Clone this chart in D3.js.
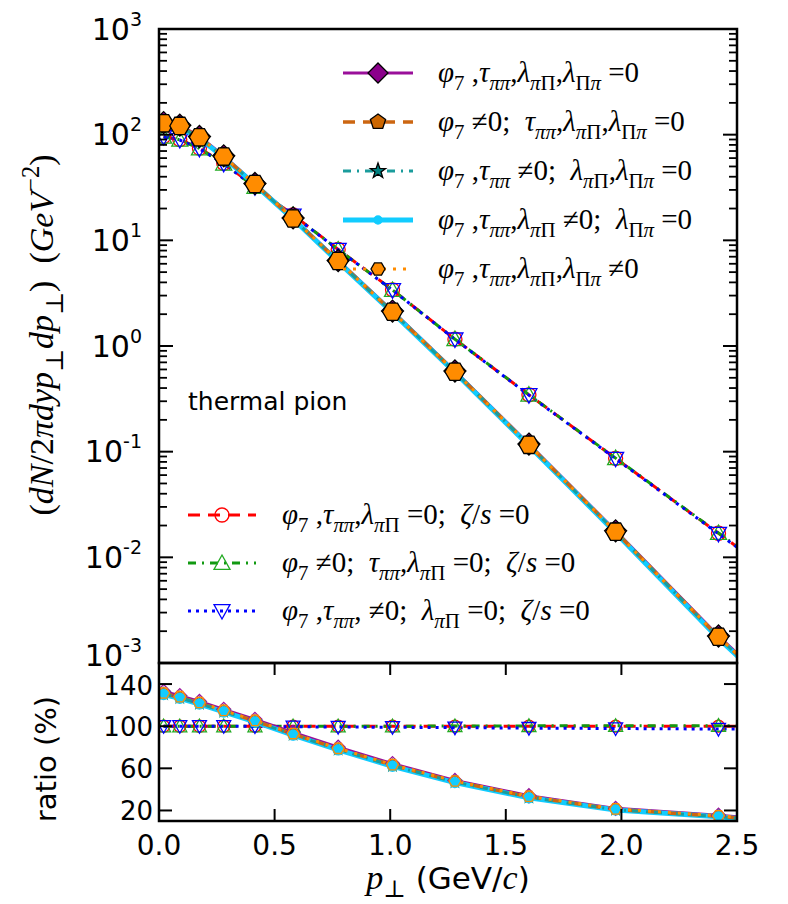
<!DOCTYPE html>
<html>
<head>
<meta charset="utf-8">
<script src="https://cdn.jsdelivr.net/npm/d3@7"></script>
<style>
  body { margin: 0; background: #fff; }
  svg { display: block; }
  text { white-space: pre; }
</style>
</head>
<body>
<svg id="chart" width="788" height="904"></svg>
<script>
"use strict";

// transverse momentum grid (last point lies past the axis, only the line reaches it)
const PT = [0.02, 0.09, 0.175, 0.28, 0.415, 0.58, 0.775, 1.01, 1.28, 1.60, 1.975, 2.42, 2.95];

// spectra, GeV^-2
const SPEC_PURPLE = [130, 123, 96, 63, 34.5, 16.3, 6.45, 2.14, 0.58, 0.118, 0.0178, 0.00180, 0.000148];
const SPEC_ORANGE = [127, 121, 94, 62, 34, 16.1, 6.35, 2.10, 0.57, 0.116, 0.0175, 0.00176, 0.000145];
const SPEC_TEAL   = [126, 120, 93.5, 61.5, 33.8, 16.0, 6.3, 2.09, 0.568, 0.1155, 0.0174, 0.00175, 0.000144];
const SPEC_CYAN   = [124, 118, 92.5, 61, 33.6, 15.9, 6.25, 2.07, 0.562, 0.114, 0.0171, 0.00171, 0.000141];
const SPEC_HEX    = [128, 121, 94.5, 62, 34.1, 16.1, 6.38, 2.11, 0.571, 0.116, 0.0175, 0.00177, 0.000146];
const SPEC_RED    = [96, 90, 74.5, 53.5, 32.2, 17.4, 8.2, 3.4, 1.16, 0.345, 0.0865, 0.0169, 0.0024];
const SPEC_GREEN  = [95.5, 89.5, 74, 53.2, 32, 17.3, 8.18, 3.39, 1.16, 0.346, 0.0868, 0.0170, 0.00242];
const SPEC_BLUE   = [95, 89, 73.5, 53, 31.9, 17.2, 8.15, 3.38, 1.155, 0.343, 0.0858, 0.0167, 0.00238];

// ratios, %
const RATIO_PURPLE = [133, 129, 123.5, 116, 106.5, 94, 80, 64.5, 48.5, 34, 22, 15.5, 5];
const RATIO_ORANGE = [131, 127.5, 122, 114.5, 105, 92.5, 78.5, 63, 47.5, 33, 21, 14.5, 4];
const RATIO_TEAL   = [130.5, 127, 121.5, 114, 104.5, 92, 78, 62.5, 47, 32.5, 20.8, 14.2, 4];
const RATIO_CYAN   = [130, 126.5, 121, 113.5, 104, 91.5, 77.5, 62, 46.5, 32, 20.5, 14, 3.5];
const RATIO_HEX    = [131.5, 128, 122.5, 115, 105.5, 93, 79, 63.5, 48, 33.5, 21.5, 15, 4.5];
const RATIO_RED    = [100, 100, 100, 100, 100, 100, 100, 100, 100, 100, 100, 100, 100];
const RATIO_GREEN  = [100, 100, 100, 100, 100, 100, 100, 100, 100.2, 100.3, 100.4, 100.5, 100.5];
const RATIO_BLUE   = [100, 100, 100, 100, 99.8, 99.5, 99.2, 99, 98.6, 98.2, 97.8, 97.3, 96.8];

const LABELS_A = [
  "φ_{7} ,τ_{ππ},λ_{πΠ},λ_{Ππ} =0",
  "φ_{7} ≠0;  τ_{ππ},λ_{πΠ},λ_{Ππ} =0",
  "φ_{7} ,τ_{ππ} ≠0;  λ_{πΠ},λ_{Ππ} =0",
  "φ_{7} ,τ_{ππ},λ_{πΠ} ≠0;  λ_{Ππ} =0",
  "φ_{7} ,τ_{ππ},λ_{πΠ},λ_{Ππ} ≠0"
];
const LABELS_B = [
  "φ_{7} ,τ_{ππ},λ_{πΠ} =0;  ζ/s =0",
  "φ_{7} ≠0;  τ_{ππ},λ_{πΠ} =0;  ζ/s =0",
  "φ_{7} ,τ_{ππ}, ≠0;  λ_{πΠ} =0;  ζ/s =0"
];

const X_TICKS = [0, 0.5, 1.0, 1.5, 2.0, 2.5];
const Y_DECADES = [-3, -2, -1, 0, 1, 2, 3];
const RATIO_TICKS = [20, 60, 100, 140];

const PLOT = { left: 159, right: 737, top: 29, mid: 663, bottom: 821 };
const SERIF = "'Liberation Serif', 'DejaVu Serif', serif";
const SANS = "'DejaVu Sans', sans-serif";

// styles per series (built from the arrays above)
const SERIES_A = [
  { spec: SPEC_PURPLE, ratio: RATIO_PURPLE, label: LABELS_A[0], color: "#9a0f9a", fill: "#8b008b", dash: null, width: 3, marker: "diamond", r: 11, lr: 10, rr: 7 },
  { spec: SPEC_ORANGE, ratio: RATIO_ORANGE, label: LABELS_A[1], color: "#cc6611", fill: "#cc6600", dash: "12,8", width: 3.5, marker: "pentagon", r: 9, lr: 8, rr: 6 },
  { spec: SPEC_TEAL, ratio: RATIO_TEAL, label: LABELS_A[2], color: "#1a9c9c", fill: "#008080", dash: "8,6,2,6", width: 3, marker: "star", r: 8, lr: 8, rr: 6 },
  { spec: SPEC_CYAN, ratio: RATIO_CYAN, label: LABELS_A[3], color: "#11ccff", fill: "#11ccff", dash: null, width: 5, marker: "circle", r: 4, lr: 4, rr: 5 },
  { spec: SPEC_HEX, ratio: RATIO_HEX, label: LABELS_A[4], color: "#ff8c00", fill: "#ff8c00", dash: "3,7", width: 3, marker: "hexagon", r: 10, lr: 7, rr: 6 }
];
const SERIES_B = [
  { spec: SPEC_RED, ratio: RATIO_RED, label: LABELS_B[0], color: "#ff0000", fill: "none", dash: "12,8", width: 3, marker: "circle", r: 7, lr: 7, rr: 7 },
  { spec: SPEC_GREEN, ratio: RATIO_GREEN, label: LABELS_B[1], color: "#119911", stroke: "#22aa22", fill: "none", dash: "8,6,2,6", width: 3, marker: "triUp", r: 8, lr: 8, rr: 8 },
  { spec: SPEC_BLUE, ratio: RATIO_BLUE, label: LABELS_B[2], color: "#0000ff", fill: "none", dash: "3,5", width: 3, marker: "triDown", r: 8, lr: 8, rr: 8 }
];

const svg = d3.select("#chart");
const x = d3.scaleLinear().domain([0, 2.5]).range([PLOT.left, PLOT.right]);
const yTop = d3.scaleLog().domain([1e-3, 1e3]).range([PLOT.mid, PLOT.top]);
const yBot = d3.scaleLinear().domain([10, 160]).range([PLOT.bottom, PLOT.mid]);

function polygon(n, r, rot) {
  let pts = d3.range(n).map(k => {
    let a = rot + k * 2 * Math.PI / n;
    return [r * Math.cos(a), r * Math.sin(a)];
  });
  return "M" + pts.join("L") + "Z";
}

function markerPath(type, r) {
  if (type == "diamond") { return polygon(4, r, -Math.PI / 2); }
  if (type == "pentagon") { return polygon(5, r, -Math.PI / 2); }
  if (type == "hexagon") { return polygon(6, r, 0); }
  if (type == "triUp") { return `M0,${-r}L${r},${r * 0.8}L${-r},${r * 0.8}Z`; }
  if (type == "triDown") { return `M0,${r}L${r},${-r * 0.8}L${-r},${-r * 0.8}Z`; }
  if (type == "star") {
    let pts = d3.range(10).map(k => {
      let a = -Math.PI / 2 + k * Math.PI / 5;
      let rad = k % 2 == 0 ? r : r * 0.4;
      return [rad * Math.cos(a), rad * Math.sin(a)];
    });
    return "M" + pts.join("L") + "Z";
  }
  return d3.symbol(d3.symbolCircle, Math.PI * r * r)();
}

// text with _{sub} and ^{sup}; latin / lowercase greek in italic
function addMath(sel, str, size) {
  let parts = str.match(/_\{[^}]*\}|\^\{[^}]*\}|[^_^]+/g);
  let shift = 0;
  parts.forEach(p => {
    let script = (p[0] == "_" || p[0] == "^");
    let body = script ? p.slice(2, -1) : p;
    let target = script ? (p[0] == "_" ? 0.28 * size : -0.42 * size) : 0;
    let fs = script ? size * 0.72 : size;
    let runs = body.match(/[a-zA-Zα-ω]+|[^a-zA-Zα-ω]+/g);
    runs.forEach((run, i) => {
      let ts = sel.append("tspan").attr("font-size", fs).text(run);
      if (/[a-zA-Zα-ω]/.test(run[0])) { ts.attr("font-style", "italic"); }
      if (i == 0 && target != shift) { ts.attr("dy", target - shift); }
    });
    shift = target;
  });
}

// clip paths
const defs = svg.append("defs");
defs.append("clipPath").attr("id", "clipTop").append("rect")
  .attr("x", PLOT.left).attr("y", PLOT.top)
  .attr("width", PLOT.right - PLOT.left).attr("height", PLOT.mid - PLOT.top);
defs.append("clipPath").attr("id", "clipBot").append("rect")
  .attr("x", PLOT.left).attr("y", PLOT.mid)
  .attr("width", PLOT.right - PLOT.left).attr("height", PLOT.bottom - PLOT.mid);

function drawSeries(g, s, yScale, values) {
  let pts = d3.zip(PT, values);
  let line = d3.line().x(d => x(d[0])).y(d => yScale(d[1]));
  g.append("path")
    .attr("d", line(pts))
    .attr("fill", "none")
    .attr("stroke", s.color)
    .attr("stroke-width", s.width)
    .attr("stroke-dasharray", s.dash);
}

function drawMarkers(g, s, yScale, values, markerR, open) {
  let pts = d3.zip(PT, values).filter(d => d[0] <= 2.5);
  g.selectAll(null)
    .data(pts)
    .join("path")
    .attr("transform", d => `translate(${x(d[0])},${yScale(d[1])})`)
    .attr("d", markerPath(s.marker, markerR))
    .attr("fill", open ? (s.marker == "circle" && s.fill != "none" ? s.fill : "none") : s.fill)
    .attr("stroke", open ? (s.stroke || s.color) : (s.fill == "none" ? (s.stroke || s.color) : "#000"))
    .attr("stroke-width", 1.3);
}

// upper panel
const gTop = svg.append("g").attr("clip-path", "url(#clipTop)");
SERIES_B.forEach(s => drawSeries(gTop, s, yTop, s.spec));
SERIES_B.forEach(s => drawMarkers(gTop, s, yTop, s.spec, s.r, false));
[SERIES_A[0], SERIES_A[3], SERIES_A[1], SERIES_A[2], SERIES_A[4]].forEach(s => drawSeries(gTop, s, yTop, s.spec));
SERIES_A.forEach(s => drawMarkers(gTop, s, yTop, s.spec, s.r, false));

// lower panel
const gBot = svg.append("g").attr("clip-path", "url(#clipBot)");
SERIES_B.forEach(s => drawSeries(gBot, s, yBot, s.ratio));
SERIES_B.forEach(s => drawMarkers(gBot, s, yBot, s.ratio, s.rr - 1, true));
[SERIES_A[0], SERIES_A[3], SERIES_A[1], SERIES_A[2], SERIES_A[4]].forEach(s => drawSeries(gBot, s, yBot, s.ratio));
SERIES_A.forEach(s => drawMarkers(gBot, s, yBot, s.ratio, s.rr, true));

// frames and ticks
const axes = svg.append("g").attr("stroke", "#000").attr("fill", "none");
axes.append("rect").attr("x", PLOT.left).attr("y", PLOT.top)
  .attr("width", PLOT.right - PLOT.left).attr("height", PLOT.mid - PLOT.top).attr("stroke-width", 2.5);
axes.append("rect").attr("x", PLOT.left).attr("y", PLOT.mid)
  .attr("width", PLOT.right - PLOT.left).attr("height", PLOT.bottom - PLOT.mid).attr("stroke-width", 2.5);

let minorVals = [];
Y_DECADES.slice(0, -1).forEach(e => d3.range(2, 10).forEach(m => minorVals.push(m * Math.pow(10, e))));
Y_DECADES.forEach(e => {
  let yy = yTop(Math.pow(10, e));
  axes.append("line").attr("x1", PLOT.left).attr("x2", PLOT.left + 14).attr("y1", yy).attr("y2", yy).attr("stroke-width", 2);
  axes.append("line").attr("x1", PLOT.right).attr("x2", PLOT.right - 14).attr("y1", yy).attr("y2", yy).attr("stroke-width", 2);
});
minorVals.forEach(v => {
  let yy = yTop(v);
  axes.append("line").attr("x1", PLOT.left).attr("x2", PLOT.left + 8).attr("y1", yy).attr("y2", yy).attr("stroke-width", 1.8);
  axes.append("line").attr("x1", PLOT.right).attr("x2", PLOT.right - 8).attr("y1", yy).attr("y2", yy).attr("stroke-width", 1.8);
});
RATIO_TICKS.forEach(v => {
  let yy = yBot(v);
  axes.append("line").attr("x1", PLOT.left).attr("x2", PLOT.left + 13).attr("y1", yy).attr("y2", yy).attr("stroke-width", 2);
  axes.append("line").attr("x1", PLOT.right).attr("x2", PLOT.right - 13).attr("y1", yy).attr("y2", yy).attr("stroke-width", 2);
});
X_TICKS.forEach(v => {
  let xx = x(v);
  axes.append("line").attr("x1", xx).attr("x2", xx).attr("y1", PLOT.bottom).attr("y2", PLOT.bottom - 12).attr("stroke-width", 2);
  axes.append("line").attr("x1", xx).attr("x2", xx).attr("y1", PLOT.mid).attr("y2", PLOT.mid + 12).attr("stroke-width", 2);
});

// tick labels
const labels = svg.append("g").attr("fill", "#000");
Y_DECADES.forEach(e => {
  let t = labels.append("text")
    .attr("x", 142).attr("y", yTop(Math.pow(10, e)) - (e == -3 ? 8 : 0))
    .attr("dy", "0.36em")
    .attr("text-anchor", "end")
    .attr("font-family", SANS).attr("font-size", 30);
  t.append("tspan").text("10");
  t.append("tspan").attr("font-size", 19).attr("dy", -14).text(e < 0 ? "-" + (-e) : String(e));
});
RATIO_TICKS.forEach(v => {
  labels.append("text")
    .attr("x", 153).attr("y", yBot(v) + (v == 140 ? 2 : 0))
    .attr("dy", "0.36em")
    .attr("text-anchor", "end")
    .attr("font-family", SANS).attr("font-size", 26)
    .text(v);
});
X_TICKS.forEach(v => {
  labels.append("text")
    .attr("x", x(v)).attr("y", 855)
    .attr("text-anchor", "middle")
    .attr("font-family", SANS).attr("font-size", 28)
    .text(v.toFixed(1));
});

// axis titles
let yTitle = labels.append("text")
  .attr("transform", "translate(53,335) rotate(-90)")
  .attr("text-anchor", "middle")
  .attr("font-family", SERIF).attr("font-size", 34);
addMath(yTitle, "(dN/2πdyp_{⊥}dp_{⊥})  (GeV^{−2})", 34);

labels.append("text")
  .attr("transform", "translate(56,759) rotate(-90)")
  .attr("text-anchor", "middle")
  .attr("font-family", SANS).attr("font-size", 29)
  .text("ratio (%)");

let xTitle = labels.append("text")
  .attr("x", 448).attr("y", 889)
  .attr("text-anchor", "middle")
  .attr("font-size", 31);
xTitle.append("tspan").attr("font-family", SERIF).attr("font-style", "italic").attr("font-size", 34).text("p");
xTitle.append("tspan").attr("font-family", SERIF).attr("font-size", 24).attr("dy", 8).text("⊥");
xTitle.append("tspan").attr("font-family", SANS).attr("dy", -8).text(" (GeV/");
xTitle.append("tspan").attr("font-family", SERIF).attr("font-style", "italic").attr("font-size", 34).text("c");
xTitle.append("tspan").attr("font-family", SANS).text(")");

labels.append("text")
  .attr("x", 188).attr("y", 410)
  .attr("font-family", SANS).attr("font-size", 25)
  .text("thermal pion");

// legends
function drawLegend(series, x0, x1, textX, y0, step) {
  series.forEach((s, i) => {
    let yy = y0 + i * step;
    let g = svg.append("g");
    g.append("line")
      .attr("x1", x0).attr("x2", x1).attr("y1", yy).attr("y2", yy)
      .attr("stroke", s.color).attr("stroke-width", s.width)
      .attr("stroke-dasharray", s.dash);
    g.append("path")
      .attr("transform", `translate(${(x0 + x1) / 2},${yy})`)
      .attr("d", markerPath(s.marker, s.lr))
      .attr("fill", s.fill)
      .attr("stroke", s.fill == "none" ? (s.stroke || s.color) : (s.marker == "circle" ? s.fill : "#000"))
      .attr("stroke-width", 1.3);
    let t = g.append("text")
      .attr("x", textX).attr("y", yy + 9)
      .attr("font-family", SERIF).attr("font-size", 29);
    addMath(t, s.label, 29);
  });
}
drawLegend(SERIES_A, 343, 413, 438, 73, 49);
drawLegend(SERIES_B, 188, 256, 282, 515, 48);
</script>
</body>
</html>
